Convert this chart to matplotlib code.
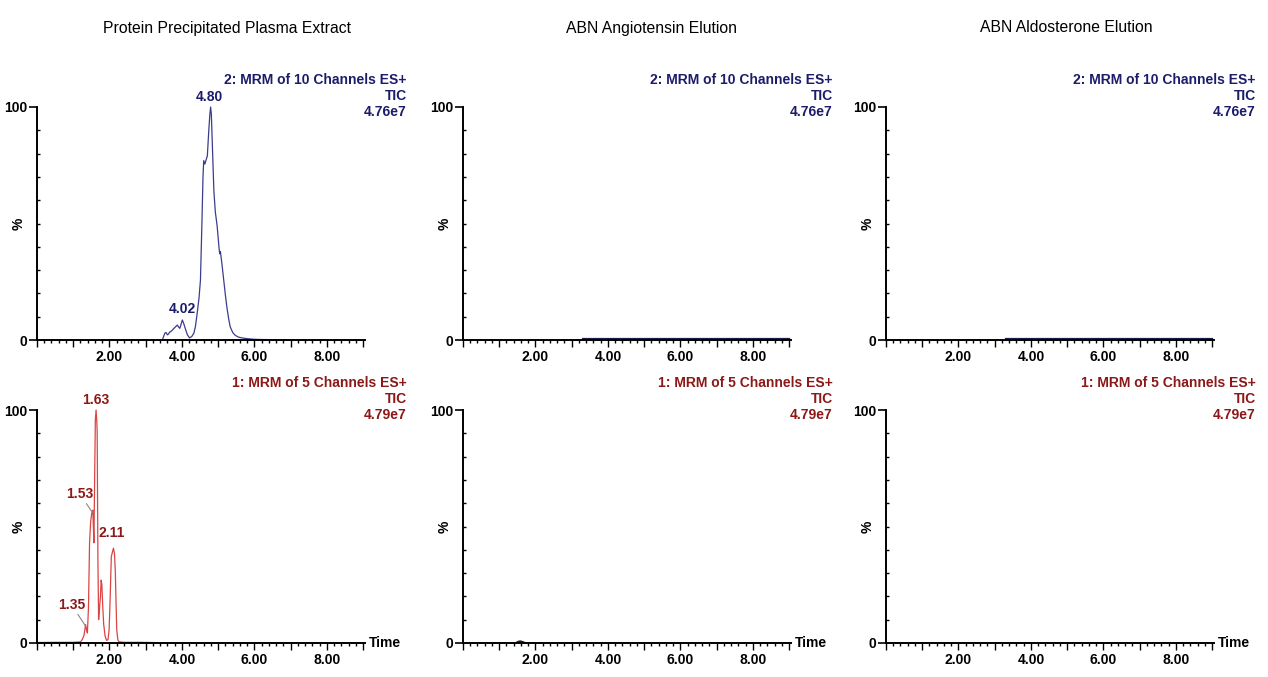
import matplotlib
matplotlib.use("Agg")
import matplotlib.pyplot as plt
from matplotlib.ticker import MultipleLocator, FixedLocator, FuncFormatter

# ---------------- data ----------------
titles = ["Protein Precipitated Plasma Extract", "ABN Angiotensin Elution", "ABN Aldosterone Elution"]

top_header = "2: MRM of 10 Channels ES+\nTIC\n4.76e7"
bot_header = "1: MRM of 5 Channels ES+\nTIC\n4.79e7"

# top row, panel 1 (plasma extract, function 2)
t_top = [3.46, 3.49, 3.53, 3.56, 3.60, 3.63, 3.66, 3.69, 3.73, 3.78, 3.83, 3.87, 3.91, 3.94,
         3.98, 4.01, 4.05, 4.10, 4.15, 4.21, 4.27, 4.33, 4.37, 4.42, 4.47, 4.51, 4.55, 4.58,
         4.60, 4.63, 4.66, 4.70, 4.74, 4.77, 4.79, 4.81, 4.84, 4.88, 4.92, 4.97, 5.02, 5.04,
         5.06, 5.10, 5.15, 5.20, 5.24, 5.29, 5.33, 5.40, 5.47, 5.55, 5.65, 5.74, 5.85, 6.00,
         6.20, 6.40, 6.52]
p_top = [0.0, 1.4, 3.0, 3.2, 2.2, 2.6, 3.4, 3.6, 4.2, 5.0, 5.8, 6.4, 5.5, 5.0,
         7.0, 8.6, 7.0, 4.5, 2.2, 0.9, 1.5, 3.0, 5.7, 11.5, 18.0, 25.7, 50.0, 70.0,
         77.0, 75.5, 77.0, 79.0, 90.0, 97.0, 100.0, 97.0, 83.0, 64.0, 55.0, 49.0, 40.0, 37.0,
         38.0, 33.0, 26.0, 19.0, 14.0, 9.0, 5.7, 3.2, 2.0, 1.3, 0.9, 0.7, 0.5, 0.3,
         0.2, 0.15, 0.1]

# bottom row, panel 1 (plasma extract, function 1)
t_bot = [0.00, 0.50, 1.00, 1.20, 1.25, 1.30, 1.34, 1.37, 1.39, 1.42, 1.45, 1.48, 1.51, 1.54,
         1.56, 1.57, 1.59, 1.61, 1.63, 1.65, 1.66, 1.68, 1.70, 1.72, 1.75, 1.77, 1.79, 1.81,
         1.84, 1.88, 1.92, 1.96, 1.99, 2.02, 2.05, 2.08, 2.11, 2.14, 2.16, 2.18, 2.20, 2.23,
         2.26, 2.40, 2.80, 3.23]
p_bot = [0.2, 0.3, 0.3, 0.5, 1.5, 3.5, 7.9, 5.5, 4.3, 15.0, 43.0, 52.0, 55.7, 57.0,
         48.0, 43.0, 70.0, 96.0, 100.0, 95.0, 91.0, 37.0, 10.0, 14.0, 20.0, 27.0, 25.0, 17.0,
         8.0, 2.9, 1.1, 1.5, 5.7, 20.0, 37.0, 39.0, 40.7, 38.0, 31.0, 18.0, 5.7, 1.5,
         0.5, 0.3, 0.3, 0.2]

# elution panels: practically flat traces
t_elu_top = [3.30, 5.00, 7.00, 9.00]
p_elu_top = [0.3, 0.3, 0.3, 0.3]
t_angio_bot = [1.45, 1.52, 1.58, 1.65, 1.72]
p_angio_bot = [0.0, 0.6, 0.8, 0.5, 0.0]

# peak labels: (text, label x, label y, peak x, peak y or None)
top_peaks = [("4.80", 4.76, 101.5, None, None), ("4.02", 4.01, 10.5, None, None)]
bot_peaks = [("1.63", 1.63, 101.5, None, None), ("2.11", 2.07, 44.0, None, None),
             ("1.53", 1.18, 61.0, 1.53, 56.0), ("1.35", 0.95, 13.5, 1.33, 7.5)]

TOP_LINE, TOP_TEXT = "#3c3c8c", "#1c1c6a"
BOT_LINE, BOT_TEXT = "#dc4444", "#8c1818"

W, H = 1268, 677
fig = plt.figure(figsize=(W / 100, H / 100), dpi=100)
plt.rcParams["font.family"] = ["Liberation Sans", "DejaVu Sans"]

col_left = [37, 463, 886]
title_cx = [227, 651, 1066]
ax_w = 328
rows = [(107, 340), (410, 643)]
XMAX = 9.05


def fmt_x(v, pos):
    return f"{v:.2f}" if int(round(v)) % 2 == 0 and v > 0.5 else ""


def setup(ax, bottom_row):
    ax.set_xlim(0, XMAX)
    ax.set_ylim(0, 100)
    for s in ["top", "right"]:
        ax.spines[s].set_visible(False)
    ax.spines["left"].set_linewidth(1.4)
    ax.spines["bottom"].set_linewidth(1.4)
    ax.xaxis.set_major_locator(MultipleLocator(1))
    ax.xaxis.set_minor_locator(MultipleLocator(0.2))
    ax.xaxis.set_major_formatter(FuncFormatter(fmt_x))
    ax.yaxis.set_major_locator(FixedLocator([0, 100]))
    ax.yaxis.set_minor_locator(MultipleLocator(10))
    ax.tick_params(axis="x", which="major", direction="out", length=5, width=1, labelsize=10, pad=2)
    ax.tick_params(axis="x", which="minor", direction="out", length=2.5, width=1)
    ax.tick_params(axis="y", which="major", direction="out", length=6, width=1.2, labelsize=10, pad=1)
    ax.tick_params(axis="y", which="minor", direction="in", length=2.5, width=1)
    for lab in ax.get_xticklabels() + ax.get_yticklabels():
        lab.set_fontweight("bold")
    ax.set_ylabel("%", fontsize=10, fontweight="bold")
    ax.yaxis.set_label_coords(-0.035, 0.5)
    if bottom_row:
        ax.text(1.012, 0.0, "Time", transform=ax.transAxes, ha="left", va="center",
                fontsize=10, fontweight="bold")


axes = {}
for r, (y_top, y_bot) in enumerate(rows):
    for c, x0 in enumerate(col_left):
        ax = fig.add_axes([x0 / W, 1 - y_bot / H, ax_w / W, (y_bot - y_top) / H])
        setup(ax, r == 1)
        axes[(r, c)] = ax

# headers and titles
for c in range(3):
    axes[(0, c)].text(1.128, 1.145, top_header, transform=axes[(0, c)].transAxes,
                      ha="right", va="top", fontsize=10, fontweight="bold",
                      color=TOP_TEXT, linespacing=1.15, multialignment="right")
    axes[(1, c)].text(1.128, 1.145, bot_header, transform=axes[(1, c)].transAxes,
                      ha="right", va="top", fontsize=10, fontweight="bold",
                      color=BOT_TEXT, linespacing=1.15, multialignment="right")
    fig.text(title_cx[c] / W, 1 - 28 / H, titles[c], ha="center", va="center",
             fontsize=11.3)

# traces
axes[(0, 0)].plot(t_top, p_top, color=TOP_LINE, lw=0.9, clip_on=False)
axes[(1, 0)].plot(t_bot, p_bot, color=BOT_LINE, lw=0.9, clip_on=False)
axes[(0, 1)].plot(t_elu_top, p_elu_top, color="#1c1c4a", lw=1.6, clip_on=False)
axes[(0, 2)].plot(t_elu_top, p_elu_top, color="#1c1c4a", lw=1.6, clip_on=False)
axes[(1, 1)].plot(t_angio_bot, p_angio_bot, color="#3a1010", lw=1.2, clip_on=False)

for ax, peaks, col in [(axes[(0, 0)], top_peaks, TOP_TEXT), (axes[(1, 0)], bot_peaks, BOT_TEXT)]:
    for txt, lx, ly, px, py in peaks:
        if px is None:
            ax.text(lx, ly, txt, ha="center", va="bottom", fontsize=10,
                    fontweight="bold", color=col)
        else:
            ax.annotate(txt, xy=(px, py), xytext=(lx, ly), ha="center", va="bottom",
                        fontsize=10, fontweight="bold", color=col,
                        arrowprops=dict(arrowstyle="-", color="#888888", lw=0.8,
                                        shrinkA=0, shrinkB=0))

fig.savefig("out.png", dpi=100)
